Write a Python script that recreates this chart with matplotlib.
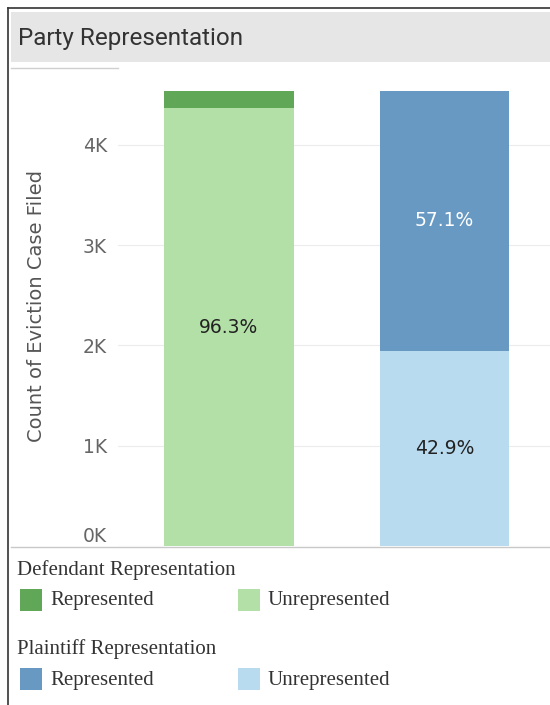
import matplotlib
matplotlib.use('Agg')
import matplotlib.pyplot as plt
from matplotlib.patches import Rectangle
from matplotlib.lines import Line2D

# data
groups = ['Defendant', 'Plaintiff']
represented = [168, 2591]
unrepresented = [4370, 1947]
pct_labels = [('', '96.3%'), ('57.1%', '42.9%')]
rep_colors = ['#60a857', '#6899c3']
unrep_colors = ['#b3e0a6', '#b8dbef']
legend_titles = ['Defendant Representation', 'Plaintiff Representation']
yticks = [0, 1000, 2000, 3000, 4000]
ytick_labels = ['0K', '1K', '2K', '3K', '4K']

W, H = 550, 705
fig = plt.figure(figsize=(W / 100, H / 100), dpi=100)


def fx(px):
    return px / W


def fy(py):
    return 1 - py / H


# outer frame and title band
fig.add_artist(Line2D([fx(8), fx(8)], [fy(8), fy(705)], color='#333333', lw=1.2))
fig.add_artist(Line2D([fx(8), fx(550)], [fy(8), fy(8)], color='#333333', lw=1.2))
fig.add_artist(Rectangle((fx(11), fy(62)), fx(539), fy(12) - fy(62),
                         facecolor='#e6e6e6', edgecolor='none'))
fig.text(fx(18), fy(38), 'Party Representation', fontsize=17.5, family='Roboto',
         color='#333333', va='center', ha='left')
fig.add_artist(Line2D([fx(11), fx(118)], [fy(68), fy(68)], color='#d0d0d0', lw=1))

# bars
ax = fig.add_axes([fx(118), fy(546), fx(432), fy(68) - fy(546)])
x = list(range(len(groups)))
ax.bar(x, unrepresented, width=0.6, color=unrep_colors)
ax.bar(x, represented, width=0.6, bottom=unrepresented, color=rep_colors)

ax.set_xlim(-0.515, 1.49)
ax.set_ylim(0, 4768)
ax.set_yticks(yticks)
ax.set_yticklabels(ytick_labels)
ax.set_xticks([])
for s in ax.spines.values():
    s.set_visible(False)
ax.tick_params(axis='y', length=0, pad=8, labelsize=13.5, labelcolor='#666666')
ax.get_yticklabels()[0].set_va('bottom')
ax.yaxis.grid(True, color='#ececec', lw=0.8)
ax.set_axisbelow(True)

for i in x:
    top_lbl, bot_lbl = pct_labels[i]
    if top_lbl:
        ax.text(i, unrepresented[i] + represented[i] / 2, top_lbl, ha='center',
                va='center', fontsize=13.5, color='white')
    if i == 0:
        # label of the big light segment
        ax.text(i, 2180, bot_lbl, ha='center', va='center', fontsize=13.5, color='#222222')
    else:
        ax.text(i, unrepresented[i] / 2, bot_lbl, ha='center', va='center',
                fontsize=13.5, color='#222222')

fig.text(fx(37), fy(306), 'Count of Eviction Case Filed', rotation=90, fontsize=14,
         color='#555555', ha='center', va='center')
fig.add_artist(Line2D([fx(11), fx(550)], [fy(547), fy(547)], color='#c8c8c8', lw=1))

# legend
leg_y = [570, 649]
for g, (title, ty) in enumerate(zip(legend_titles, leg_y)):
    fig.text(fx(17), fy(ty), title, family='Liberation Serif', fontsize=15,
             color='#333333', va='center')
    sy = ty + 30
    for sx, tx, col, lbl in [(20, 50, rep_colors[g], 'Represented'),
                             (238, 267, unrep_colors[g], 'Unrepresented')]:
        fig.add_artist(Rectangle((fx(sx), fy(sy + 11)), fx(22), fy(sy - 11) - fy(sy + 11),
                                 facecolor=col, edgecolor='none'))
        fig.text(fx(tx), fy(sy + 1), lbl, family='Liberation Serif', fontsize=15,
                 color='#333333', va='center')

fig.savefig('out.png', dpi=100)
